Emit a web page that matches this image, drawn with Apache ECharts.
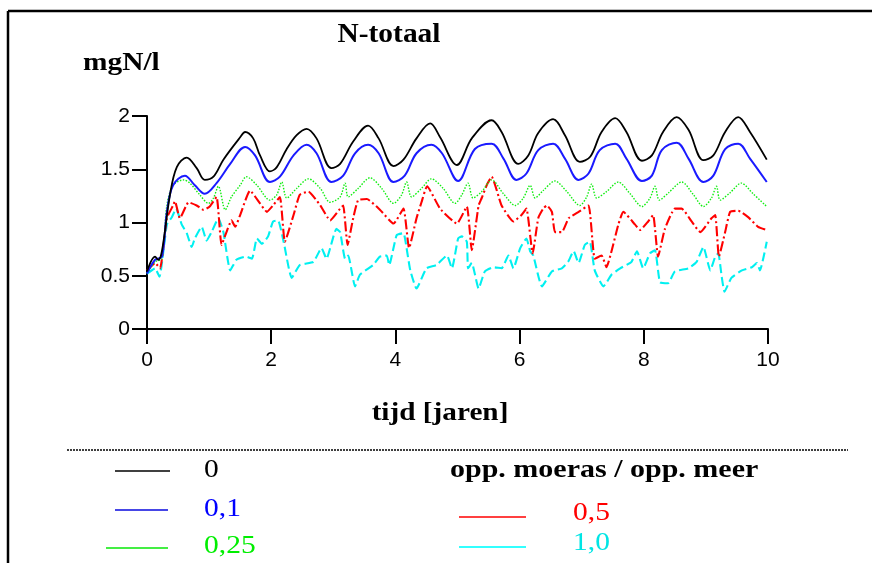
<!DOCTYPE html>
<html>
<head>
<meta charset="utf-8">
<script src="https://cdn.jsdelivr.net/npm/echarts@6/dist/echarts.min.js"></script>
<style>
html,body{margin:0;padding:0;background:#fff;}
#c{width:872px;height:563px;}
</style>
</head>
<body>
<div id="c"></div>
<script>
// ---- data: [tijd (jaren), N-totaal (mgN/l)] ----
var series0 = [[0,0.54],[0.13,0.68],[0.18,0.65],[0.24,0.73],[0.37,1.26],[0.48,1.52],[0.64,1.61],[0.80,1.51],[0.93,1.40],[1.07,1.43],[1.23,1.59],[1.50,1.80],[1.58,1.85],[1.71,1.79],[1.82,1.63],[1.98,1.48],[2.09,1.52],[2.25,1.69],[2.41,1.82],[2.57,1.88],[2.73,1.79],[2.97,1.51],[3.11,1.55],[3.32,1.76],[3.56,1.91],[3.73,1.79],[3.97,1.53],[4.13,1.59],[4.34,1.79],[4.56,1.93],[4.72,1.80],[4.99,1.54],[5.23,1.79],[5.55,1.96],[5.71,1.85],[5.98,1.55],[6.14,1.63],[6.30,1.84],[6.54,1.97],[6.73,1.82],[6.97,1.57],[7.14,1.62],[7.32,1.85],[7.54,1.98],[7.72,1.85],[7.97,1.58],[8.13,1.63],[8.31,1.85],[8.53,1.99],[8.72,1.87],[8.96,1.585],[9.12,1.63],[9.31,1.85],[9.52,1.99],[9.71,1.85],[9.98,1.59]];
var series01 = [[0,0.52],[0.13,0.65],[0.24,0.68],[0.32,1.10],[0.42,1.35],[0.61,1.44],[0.77,1.35],[0.93,1.27],[1.12,1.37],[1.34,1.55],[1.58,1.71],[1.74,1.63],[1.98,1.38],[2.14,1.43],[2.36,1.63],[2.57,1.73],[2.73,1.65],[2.97,1.38],[3.16,1.44],[3.35,1.65],[3.56,1.73],[3.73,1.65],[3.97,1.38],[4.15,1.44],[4.34,1.65],[4.58,1.73],[4.75,1.65],[5.01,1.39],[5.28,1.69],[5.55,1.74],[5.74,1.60],[5.95,1.40],[6.11,1.46],[6.30,1.68],[6.54,1.74],[6.73,1.60],[6.95,1.40],[7.11,1.46],[7.29,1.68],[7.54,1.74],[7.72,1.60],[7.97,1.39],[8.13,1.44],[8.29,1.68],[8.53,1.75],[8.72,1.60],[8.96,1.38],[9.12,1.44],[9.31,1.69],[9.52,1.74],[9.71,1.60],[9.98,1.38]];
var series025 = [[0,0.52],[0.13,0.63],[0.24,0.66],[0.32,1.16],[0.42,1.35],[0.59,1.40],[0.69,1.37],[0.85,1.26],[0.99,1.18],[1.07,1.23],[1.15,1.34],[1.26,1.12],[1.36,1.24],[1.50,1.35],[1.60,1.43],[1.77,1.35],[1.98,1.21],[2.09,1.26],[2.17,1.38],[2.25,1.23],[2.41,1.32],[2.60,1.41],[2.79,1.32],[2.95,1.19],[3.11,1.24],[3.19,1.37],[3.24,1.24],[3.40,1.32],[3.59,1.42],[3.78,1.32],[3.97,1.18],[4.10,1.26],[4.18,1.38],[4.26,1.24],[4.42,1.32],[4.58,1.41],[4.77,1.32],[4.96,1.18],[5.07,1.26],[5.17,1.37],[5.25,1.23],[5.39,1.29],[5.55,1.40],[5.74,1.27],[5.93,1.16],[6.06,1.23],[6.17,1.35],[6.25,1.23],[6.38,1.30],[6.57,1.39],[6.76,1.29],[6.97,1.16],[7.08,1.24],[7.16,1.36],[7.24,1.23],[7.40,1.29],[7.59,1.38],[7.78,1.27],[7.97,1.15],[8.10,1.23],[8.18,1.34],[8.25,1.21],[8.40,1.28],[8.61,1.38],[8.80,1.26],[8.96,1.15],[9.09,1.23],[9.17,1.34],[9.23,1.21],[9.39,1.28],[9.57,1.37],[9.76,1.27],[9.98,1.15]];
var series05 = [[0,0.55],[0.13,0.62],[0.21,0.57],[0.32,1.04],[0.42,1.16],[0.45,1.20],[0.53,1.04],[0.67,1.19],[0.80,1.16],[0.91,1.12],[1.01,1.15],[1.12,1.24],[1.20,0.79],[1.28,0.91],[1.36,1.02],[1.42,0.96],[1.50,1.07],[1.66,1.30],[1.82,1.18],[1.93,1.10],[2.03,1.16],[2.14,1.24],[2.22,0.82],[2.36,1.07],[2.46,1.26],[2.60,1.29],[2.79,1.16],[2.95,1.02],[3.11,1.13],[3.16,1.16],[3.23,0.79],[3.32,1.04],[3.40,1.21],[3.54,1.22],[3.75,1.12],[3.97,0.99],[4.13,1.13],[4.22,0.76],[4.34,1.04],[4.42,1.19],[4.51,1.34],[4.72,1.13],[4.99,0.99],[5.15,1.15],[5.23,0.74],[5.34,1.16],[5.39,1.23],[5.47,1.35],[5.55,1.43],[5.71,1.16],[5.90,1.01],[6.03,1.07],[6.11,1.13],[6.21,0.71],[6.30,1.04],[6.38,1.13],[6.44,1.16],[6.52,1.10],[6.57,0.91],[6.68,0.91],[6.79,1.04],[6.95,1.10],[7.11,1.16],[7.21,0.66],[7.32,0.69],[7.40,0.58],[7.48,0.73],[7.59,0.98],[7.67,1.10],[7.86,0.98],[7.94,0.93],[8.07,1.01],[8.15,1.07],[8.23,0.68],[8.34,0.94],[8.50,1.13],[8.61,1.13],[8.77,1.01],[8.91,0.91],[9.09,1.04],[9.15,1.07],[9.21,0.68],[9.31,0.91],[9.39,1.10],[9.52,1.11],[9.68,1.05],[9.84,0.96],[9.98,0.93]];
var series10 = [[0,0.52],[0.13,0.57],[0.20,0.49],[0.32,0.98],[0.40,1.05],[0.47,1.13],[0.56,0.98],[0.64,0.90],[0.72,0.77],[0.77,0.85],[0.88,0.96],[0.96,0.83],[1.04,0.91],[1.15,1.04],[1.23,0.91],[1.34,0.55],[1.44,0.65],[1.60,0.68],[1.69,0.66],[1.77,0.85],[1.85,0.80],[1.95,0.87],[2.03,1.01],[2.11,1.02],[2.20,0.82],[2.33,0.48],[2.46,0.60],[2.68,0.63],[2.81,0.76],[2.89,0.66],[3.05,0.94],[3.11,0.91],[3.19,0.66],[3.24,0.69],[3.35,0.40],[3.43,0.51],[3.64,0.60],[3.75,0.68],[3.86,0.69],[3.90,0.60],[4.02,0.88],[4.13,0.90],[4.18,0.76],[4.24,0.55],[4.34,0.38],[4.50,0.57],[4.66,0.60],[4.83,0.69],[4.91,0.57],[5.01,0.85],[5.07,0.87],[5.15,0.82],[5.17,0.57],[5.23,0.62],[5.34,0.38],[5.44,0.54],[5.58,0.58],[5.71,0.57],[5.82,0.69],[5.90,0.57],[6.01,0.76],[6.11,0.85],[6.17,0.73],[6.22,0.69],[6.36,0.40],[6.52,0.54],[6.68,0.57],[6.78,0.63],[6.87,0.73],[6.95,0.62],[7.05,0.79],[7.13,0.82],[7.21,0.55],[7.35,0.40],[7.48,0.51],[7.62,0.57],[7.80,0.63],[7.89,0.73],[7.99,0.57],[8.10,0.71],[8.18,0.74],[8.26,0.44],[8.39,0.43],[8.50,0.54],[8.72,0.57],[8.85,0.63],[8.96,0.77],[9.07,0.55],[9.15,0.68],[9.20,0.71],[9.25,0.51],[9.30,0.35],[9.41,0.48],[9.58,0.55],[9.74,0.58],[9.82,0.62],[9.87,0.55],[9.98,0.82]];

var legendLabels = ['0', '0,1', '0,25', '0,5', '1,0'];
var xTicks = {min: 0, max: 10, interval: 2};
var yTicks = {min: 0, max: 2, interval: 0.5};

var chart = echarts.init(document.getElementById('c'), null, {renderer: 'canvas'});

var serifB = '"Liberation Serif", "Times New Roman", serif';
function txt(text, x, y, size, bold, color, scaleX, align) {
  return {
    type: 'text', x: x, y: y, scaleX: scaleX || 1, silent: true,
    style: {
      text: text, x: 0, y: 0, fill: color || '#000',
      font: (bold ? 'bold ' : '') + size + 'px ' + serifB,
      textAlign: align || 'left', textVerticalAlign: 'middle'
    }
  };
}
function seg(x1, x2, y, color, w, dash) {
  return {
    type: 'line', silent: true,
    shape: {x1: x1, y1: y, x2: x2, y2: y},
    style: {stroke: color, lineWidth: w || 1.5, lineDash: dash || null}
  };
}

var colors = ['#000000', '#1a1aff', '#11ee11', '#ff0000', '#00f0f0'];

var option = {
  animation: false,
  backgroundColor: '#ffffff',
  grid: {left: 147, right: 104, top: 116, bottom: 234, containLabel: false},
  xAxis: {
    type: 'value', min: xTicks.min, max: xTicks.max, interval: xTicks.interval,
    axisLine: {show: true, onZero: false, lineStyle: {color: '#000', width: 2}},
    axisTick: {show: true, length: 15, lineStyle: {color: '#000', width: 2}},
    axisLabel: {margin: 21, color: '#000', fontSize: 21, fontFamily: '"Liberation Sans", Arial, sans-serif'},
    splitLine: {show: false}
  },
  yAxis: {
    type: 'value', min: yTicks.min, max: yTicks.max, interval: yTicks.interval,
    axisLine: {show: true, onZero: false, lineStyle: {color: '#000', width: 2}},
    axisTick: {show: true, length: 15, lineStyle: {color: '#000', width: 2}},
    axisLabel: {margin: 17, color: '#000', fontSize: 21, fontFamily: '"Liberation Sans", Arial, sans-serif'},
    splitLine: {show: false}
  },
  series: [
    {name: legendLabels[0], type: 'line', data: series0, showSymbol: false, smooth: 0.35,
     lineStyle: {color: colors[0], width: 1.8}, z: 5},
    {name: legendLabels[1], type: 'line', data: series01, showSymbol: false, smooth: 0.35,
     lineStyle: {color: colors[1], width: 2}, z: 4},
    {name: legendLabels[2], type: 'line', data: series025, showSymbol: false, smooth: 0.3,
     lineStyle: {color: colors[2], width: 1.4, type: [1.5, 1.5]}, z: 3},
    {name: legendLabels[3], type: 'line', data: series05, showSymbol: false, smooth: 0.15,
     lineStyle: {color: colors[3], width: 2.1, type: [10, 3, 2, 3]}, z: 2},
    {name: legendLabels[4], type: 'line', data: series10, showSymbol: false, smooth: 0.15,
     lineStyle: {color: colors[4], width: 2.1, type: [9, 4]}, z: 1}
  ],
  graphic: [
    // frame
    seg(8, 872, 11, '#000', 2.5),
    {type: 'line', silent: true, shape: {x1: 8, y1: 11, x2: 8, y2: 563}, style: {stroke: '#000', lineWidth: 2.5}},
    // titles
    txt('N-totaal', 389, 35, 27, true, '#000', 1.09, 'center'),
    txt('mgN/l', 83, 63, 26, true, '#000', 1.13, 'left'),
    txt('tijd [jaren]', 440, 414, 25, true, '#000', 1.17, 'center'),
    // separator
    seg(67, 848, 450, '#000', 1.5, [2, 1]),
    // legend
    seg(115, 170, 471, colors[0], 1.5),
    txt(legendLabels[0], 204, 470, 25, false, colors[0], 1.18),
    seg(115, 168, 510, '#4646e6', 2),
    txt(legendLabels[1], 204, 509, 25, false, '#0000ff', 1.18),
    seg(106, 168, 548, '#44ee44', 2),
    txt(legendLabels[2], 204, 546, 25, false, '#00ee00', 1.18),
    txt('opp. moeras / opp. meer', 450, 471, 25, true, '#000', 1.2),
    seg(459, 526, 517, colors[3], 1.5),
    txt(legendLabels[3], 573, 513, 25, false, '#ff0000', 1.18),
    seg(459, 526, 547, '#33ffff', 2),
    txt(legendLabels[4], 573, 543, 25, false, '#00e5e5', 1.18)
  ]
};
chart.setOption(option);
</script>
</body>
</html>
